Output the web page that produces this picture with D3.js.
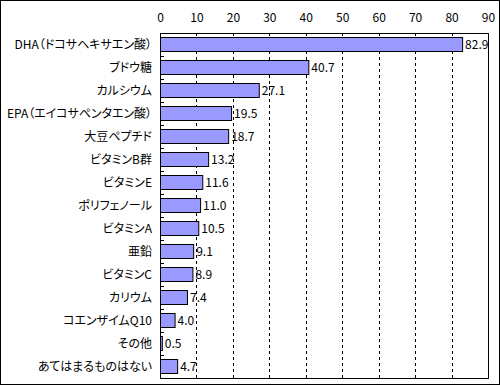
<!DOCTYPE html>
<html>
<head>
<meta charset="utf-8">
<script src="https://cdn.jsdelivr.net/npm/d3@7"></script>
<style>
  body { margin: 0; background: #fff; }
  svg text { font-family: "Noto Sans CJK JP", "DejaVu Sans", sans-serif; font-size: 12px; fill: #000; font-feature-settings: "palt"; }
</style>
</head>
<body>
<div id="chart"></div>
<script>
const categories = ["DHA（ドコサヘキサエン酸）", "ブドウ糖", "カルシウム", "EPA（エイコサペンタエン酸）", "大豆ペプチド",
  "ビタミンB群", "ビタミンE", "ポリフェノール", "ビタミンA", "亜鉛", "ビタミンC", "カリウム", "コエンザイムQ10", "その他", "あてはまるものはない"];
const values = [82.9, 40.7, 27.1, 19.5, 18.7, 13.2, 11.6, 11.0, 10.5, 9.1, 8.9, 7.4, 4.0, 0.5, 4.7];
const xTicks = [0, 10, 20, 30, 40, 50, 60, 70, 80, 90];

const W = 500, H = 385;
const plotL = 160, plotR = 488, plotT = 33, plotB = 378;

const svg = d3.select("#chart").append("svg")
  .attr("width", W).attr("height", H);

// outer frame
svg.append("rect").attr("x", 0.5).attr("y", 0.5).attr("width", W - 1).attr("height", H - 1)
  .attr("fill", "#fff").attr("stroke", "#000");

const x = d3.scaleLinear([0, 90], [plotL, plotR]);
const y = d3.scaleBand(categories, [plotT, plotB]).paddingInner(0.39).paddingOuter(0.195);

// dashed grid
svg.append("g").selectAll("line")
  .data(xTicks.filter(d => d > 0 && d < 90))
  .join("line")
  .attr("x1", d => Math.round(x(d)) + 0.5).attr("x2", d => Math.round(x(d)) + 0.5)
  .attr("y1", plotT).attr("y2", plotB)
  .attr("stroke", "#000").attr("stroke-dasharray", "3,3");

// plot frame
svg.append("rect").attr("x", plotL + 0.5).attr("y", plotT + 0.5)
  .attr("width", plotR - plotL).attr("height", plotB - plotT)
  .attr("fill", "none").attr("stroke", "#000");

// top axis labels
const xAxis = d3.axisTop(x).tickValues(xTicks).tickSize(0).tickPadding(0);
const xAxisG = svg.append("g").attr("transform", `translate(0, 22)`).call(xAxis);
xAxisG.select(".domain").remove();
xAxisG.selectAll("text").attr("font-size", null);

// left ticks at band boundaries (inside)
const step = y.step();
svg.append("g").selectAll("line")
  .data(d3.range(1, categories.length))
  .join("line")
  .attr("x1", plotL).attr("x2", plotL + 4)
  .attr("y1", i => Math.round(plotT + i * step) + 0.5).attr("y2", i => Math.round(plotT + i * step) + 0.5)
  .attr("stroke", "#000");

// category labels
const maxLabelW = plotL - 8 - 7;
svg.append("g").selectAll("text")
  .data(categories)
  .join("text")
  .attr("x", plotL - 8)
  .attr("y", d => y(d) + y.bandwidth() / 2)
  .attr("dy", "0.35em")
  .attr("text-anchor", "end")
  .text(d => d)
  .each(function () {
    const w = this.getComputedTextLength();
    if (w > maxLabelW) d3.select(this).attr("textLength", maxLabelW).attr("lengthAdjust", "spacingAndGlyphs");
  });

// bars
svg.append("g").selectAll("rect")
  .data(values)
  .join("rect")
  .attr("x", plotL + 0.5)
  .attr("y", (d, i) => Math.round(y(categories[i])) + 0.5)
  .attr("width", d => x(d) - plotL)
  .attr("height", Math.round(y.bandwidth()))
  .attr("fill", "#9999ff")
  .attr("stroke", "#000");

// value labels
svg.append("g").selectAll("text")
  .data(values)
  .join("text")
  .attr("x", d => x(d) + 3)
  .attr("y", (d, i) => y(categories[i]) + y.bandwidth() / 2)
  .attr("dy", "0.35em")
  .text(d => d.toFixed(1));
</script>
</body>
</html>
